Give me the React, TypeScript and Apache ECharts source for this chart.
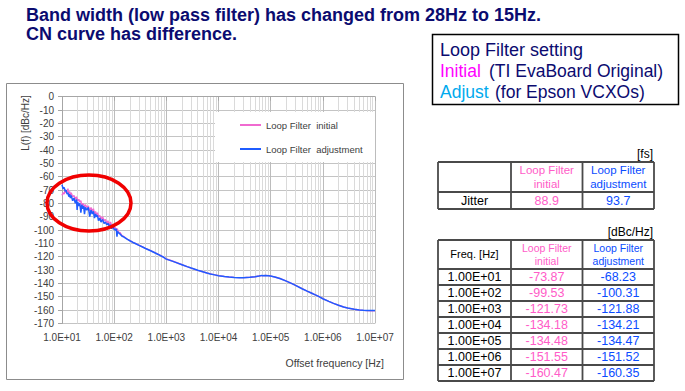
import React, { useEffect, useRef } from 'react';
import * as echarts from 'echarts';

const titleLines = [
  'Band width (low pass filter) has changed from 28Hz to 15Hz.',
  'CN curve has difference.',
];
const seriesNames = ['Loop Filter  initial', 'Loop Filter  adjustment'];
const yAxisTitle = 'L(f) [dBc/Hz]';
const xAxisTitle = 'Offset frequency [Hz]';

// [frequency Hz, phase noise dBc/Hz]
const initialPts: [number, number][] = [
  [10, -74], [10.5, -72], [11, -73], [11.5, -70], [12, -72], [12.5, -71], [13, -69], [13.5, -73],
  [14, -71], [14.5, -74], [15, -72], [16, -75], [17, -74], [18, -77], [19, -75], [20, -78],
  [21, -77], [22, -79], [23, -78], [24, -82], [25, -80], [26, -81], [27, -83], [28, -81],
  [30, -83], [32, -82], [34, -86], [36, -83], [38, -86], [40, -84], [42, -88], [44, -86],
  [46, -89], [48, -87], [50, -90], [53, -89], [56, -92], [60, -90], [64, -93], [68, -92],
  [72, -95], [76, -93], [80, -96], [85, -94], [90, -97], [95, -96], [100, -99.5], [105, -98],
  [110, -100], [115, -99], [120, -101.5], [130, -102], [140, -104], [150, -104.7], [165, -105.9],
  [180, -106.9], [200, -107.9], [230, -109.2], [260, -110.2], [300, -111.4], [350, -112.6],
  [400, -113.7], [500, -115.4], [600, -116.9], [700, -118.2], [850, -119.9], [1000, -121.7],
  [1300, -123.2], [1600, -124.5], [2000, -126], [2500, -127.4], [3000, -128.5], [4000, -130.2],
  [5000, -131.3], [6000, -132.2], [7000, -132.9], [8500, -133.6], [10000, -134.2], [13000, -134.8],
  [16000, -135.2], [20000, -135.5], [25000, -135.7], [30000, -135.7], [40000, -135.4], [50000, -135],
  [60000, -134.5], [70000, -134.2], [80000, -134.1], [90000, -134.2], [100000, -134.5],
  [120000, -135.2], [150000, -136.3], [200000, -138.3], [250000, -140], [300000, -141.5],
  [400000, -144], [500000, -145.8], [600000, -147.2], [700000, -148.4], [850000, -149.9],
  [1000000, -151.5], [1300000, -153.5], [1600000, -155], [2000000, -156.4], [2500000, -157.7],
  [3000000, -158.5], [4000000, -159.4], [5000000, -159.9], [6000000, -160.2], [7000000, -160.4],
  [8500000, -160.5], [10000000, -160.5],
];

const adjustPts: [number, number][] = [
  [10, -66], [10.5, -69], [11, -68], [11.5, -71], [12, -70], [12.5, -73], [13, -72], [13.5, -75],
  [14, -73], [14.5, -76], [15, -74], [16, -78], [17, -76], [18, -80], [19, -77], [19.5, -85],
  [20, -79], [21, -82], [22, -80], [23, -87], [24, -81], [25, -84], [26, -82], [27, -88],
  [28, -83], [30, -85], [32, -83], [34, -90], [36, -85], [38, -88], [40, -86], [42, -91],
  [44, -88], [46, -90], [48, -89], [50, -93], [53, -91], [56, -94], [60, -92], [64, -95],
  [68, -94], [72, -96], [76, -95], [80, -97], [85, -96], [90, -99], [95, -97], [100, -99.5],
  [105, -100], [110, -99], [113, -105], [116, -101], [120, -102], [130, -103], [140, -104.5],
  [150, -105], [165, -106], [180, -107], [200, -108], [230, -109.3], [260, -110.3], [300, -111.5],
  [350, -112.7], [400, -113.8], [500, -115.5], [600, -117], [700, -118.3], [850, -120],
  [1000, -121.8], [1300, -123.3], [1600, -124.6], [2000, -126], [2500, -127.4], [3000, -128.5],
  [4000, -130.2], [5000, -131.3], [6000, -132.2], [7000, -132.9], [8500, -133.6], [10000, -134.2],
  [13000, -134.8], [16000, -135.2], [20000, -135.5], [25000, -135.7], [30000, -135.7],
  [40000, -135.4], [50000, -135], [60000, -134.5], [68000, -134], [70000, -134.3], [80000, -134.1],
  [90000, -134.2], [100000, -134.5], [120000, -135.2], [150000, -136.3], [200000, -138.3],
  [250000, -140], [300000, -141.5], [400000, -144], [500000, -145.8], [600000, -147.2],
  [700000, -148.4], [850000, -149.9], [1000000, -151.5], [1300000, -153.5], [1600000, -155],
  [2000000, -156.4], [2500000, -157.7], [3000000, -158.5], [4000000, -159.4], [5000000, -159.9],
  [6000000, -160.2], [7000000, -160.3], [8500000, -160.4], [10000000, -160.4],
];

const jitterUnit = '[fs]';
const jitterLabel = 'Jitter';
const jitterInitial = '88.9';
const jitterAdjust = '93.7';

const tableUnit = '[dBc/Hz]';
const tableFreqs = ['1.00E+01', '1.00E+02', '1.00E+03', '1.00E+04', '1.00E+05', '1.00E+06', '1.00E+07'];
const tableInitial = ['-73.87', '-99.53', '-121.73', '-134.18', '-134.48', '-151.55', '-160.47'];
const tableAdjust = ['-68.23', '-100.31', '-121.88', '-134.21', '-134.47', '-151.52', '-160.35'];

const NAVY = '#0b0b70';
const PINK_LINE = '#f06ad0';
const BLUE_LINE = '#1f5cff';
const PINK_T = '#ff5cc8';
const BLUE_T = '#0a4cff';
const FONT = '"Liberation Sans", Arial, sans-serif';

function txt(text: string, x: number, y: number, size: number, fill: string, align = 'center', weight = 'normal', extra: any = {}) {
  return {
    type: 'text',
    x,
    y,
    z: 20,
    style: { text, fill, fontSize: size, fontFamily: FONT, fontWeight: weight, align, verticalAlign: 'middle', ...extra },
  };
}
function ln(x1: number, y1: number, x2: number, y2: number, color = '#4a4a4a', w = 1.8) {
  return { type: 'line', z: 20, shape: { x1, y1, x2, y2 }, style: { stroke: color, lineWidth: w } };
}

function buildGraphics() {
  const g: any[] = [];
  // title
  g.push(txt(titleLines[0], 26, 15, 18, NAVY, 'left', 'bold'));
  g.push(txt(titleLines[1], 26, 34, 18, NAVY, 'left', 'bold'));
  // setting box
  g.push({ type: 'rect', z: 20, shape: { x: 432.5, y: 34.5, width: 246, height: 70 }, style: { fill: '#fff', stroke: '#000', lineWidth: 1.5 } });
  g.push(txt('Loop Filter setting', 440, 50, 18, NAVY, 'left'));
  g.push(txt('Initial', 440, 71, 17.5, '#ff00ff', 'left'));
  g.push(txt('(TI EvaBoard Original)', 489, 71, 17.5, NAVY, 'left'));
  g.push(txt('Adjust', 440, 92, 17.5, '#00aaee', 'left'));
  g.push(txt('(for Epson VCXOs)', 495, 92, 17.5, NAVY, 'left'));
  // chart frame
  g.push({ type: 'rect', z: 1, shape: { x: 6.5, y: 83.5, width: 397, height: 296 }, style: { fill: 'none', stroke: '#8c8c8c', lineWidth: 1 } });
  // legend background
  g.push({ type: 'rect', z: 3, shape: { x: 215, y: 112, width: 160, height: 50 }, style: { fill: '#fff' } });
  // axis titles
  g.push({ type: 'text', x: 25, y: 123, rotation: Math.PI / 2, z: 20, style: { text: yAxisTitle, fill: '#404040', fontSize: 10, fontFamily: FONT, align: 'center', verticalAlign: 'middle' } });
  g.push(txt(xAxisTitle, 384, 363, 10.5, '#404040', 'right'));
  // red ellipse
  g.push({ type: 'ellipse', z: 30, shape: { cx: 89, cy: 203, rx: 42, ry: 28 }, style: { fill: 'none', stroke: '#f00000', lineWidth: 3.5 } });

  const xs = [438, 511, 582.5, 654];
  // jitter table
  g.push(txt(jitterUnit, 653, 154, 12, '#000', 'right'));
  const jy = [162, 192, 209];
  jy.forEach((y) => g.push(ln(xs[0], y, xs[3], y)));
  xs.forEach((x) => g.push(ln(x, jy[0], x, jy[2])));
  const c1 = (xs[1] + xs[2]) / 2;
  const c2 = (xs[2] + xs[3]) / 2;
  const c0 = (xs[0] + xs[1]) / 2;
  g.push(txt('Loop Filter', c1, 170, 11.5, PINK_T));
  g.push(txt('initial', c1, 184, 11.5, PINK_T));
  g.push(txt('Loop Filter', c2, 170, 11.5, BLUE_T));
  g.push(txt('adjustment', c2, 184, 11.5, BLUE_T));
  g.push(txt(jitterLabel, c0, 201, 12.5, '#000'));
  g.push(txt(jitterInitial, c1, 201, 12.5, PINK_T));
  g.push(txt(jitterAdjust, c2, 201, 12.5, BLUE_T));

  // noise table
  g.push(txt(tableUnit, 653, 232, 12, '#000', 'right'));
  const ty = [240, 269, 285, 301, 317, 333, 349, 365, 381];
  ty.forEach((y) => g.push(ln(xs[0], y, xs[3], y)));
  xs.forEach((x) => g.push(ln(x, ty[0], x, ty[ty.length - 1])));
  g.push(txt('Freq. [Hz]', c0, 254, 11, '#000'));
  g.push(txt('Loop Filter', c1, 248, 10.5, PINK_T));
  g.push(txt('initial', c1, 261, 10.5, PINK_T));
  g.push(txt('Loop Filter', c2, 248, 10.5, BLUE_T));
  g.push(txt('adjustment', c2, 261, 10.5, BLUE_T));
  tableFreqs.forEach((f, i) => {
    const cy = (ty[i + 1] + ty[i + 2]) / 2;
    g.push(txt(f, c0, cy, 12.5, '#000'));
    g.push(txt(tableInitial[i], c1, cy, 12.5, PINK_T));
    g.push(txt(tableAdjust[i], c2, cy, 12.5, BLUE_T));
  });
  return g;
}

export default function App() {
  const ref = useRef<HTMLDivElement>(null);
  useEffect(() => {
    if (!ref.current) return;
    const chart = echarts.init(ref.current, undefined, { renderer: 'svg' });
    chart.setOption({
      animation: false,
      backgroundColor: '#fff',
      textStyle: { fontFamily: FONT },
      grid: { left: 62, top: 96.7, right: 310, bottom: 67.6, containLabel: false },
      legend: {
        orient: 'vertical',
        left: 235,
        top: 113,
        z: 4,
        itemGap: 10,
        itemWidth: 21,
        itemHeight: 2,
        icon: 'rect',
        textStyle: { fontSize: 9.5, color: '#404040', lineHeight: 14, fontFamily: FONT },
        data: seriesNames,
      },
      xAxis: {
        type: 'log',
        logBase: 10,
        min: 10,
        max: 10000000,
        splitNumber: 6,
        axisLine: { lineStyle: { color: '#a6a6a6' } },
        axisTick: { show: true, length: 4, lineStyle: { color: '#a6a6a6' } },
        axisLabel: {
          fontSize: 10,
          color: '#404040',
          margin: 9,
          formatter: (v: number) => '1.0E+' + String(Math.round(Math.log10(v))).padStart(2, '0'),
        },
        splitLine: { show: true, lineStyle: { color: '#bcbcbc', width: 1 } },
        minorTick: { show: false, splitNumber: 9 },
        minorSplitLine: { show: true, lineStyle: { color: '#dadada', width: 1 } },
      },
      yAxis: {
        type: 'value',
        min: -170,
        max: 0,
        interval: 10,
        axisLine: { show: true, lineStyle: { color: '#a6a6a6' } },
        axisTick: { show: true, length: 4, lineStyle: { color: '#a6a6a6' } },
        axisLabel: { fontSize: 10, color: '#404040', margin: 8 },
        splitLine: { show: true, lineStyle: { color: '#c4c4c4', width: 1 } },
      },
      series: [
        {
          name: seriesNames[0],
          type: 'line',
          data: initialPts,
          showSymbol: false,
          z: 2,
          lineStyle: { color: PINK_LINE, width: 1.4 },
          itemStyle: { color: PINK_LINE },
        },
        {
          name: seriesNames[1],
          type: 'line',
          data: adjustPts,
          showSymbol: false,
          z: 2,
          lineStyle: { color: BLUE_LINE, width: 1.5 },
          itemStyle: { color: BLUE_LINE },
        },
      ],
      graphic: buildGraphics(),
    });
    return () => chart.dispose();
  }, []);
  return <div ref={ref} style={{ width: 685, height: 391, position: 'absolute', left: 0, top: 0 }} />;
}
